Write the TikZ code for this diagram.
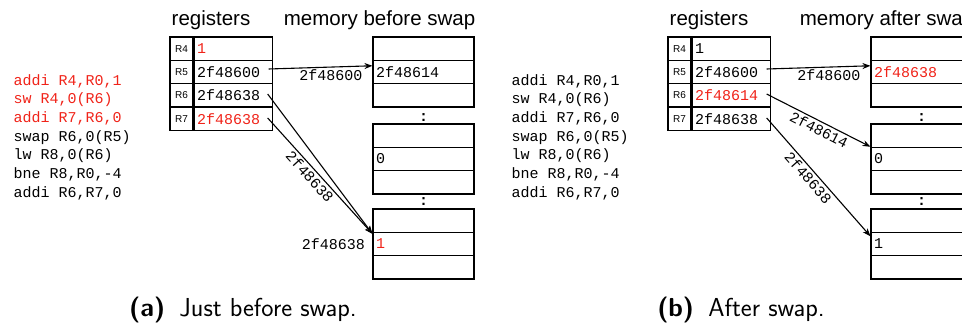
\documentclass[tikz,border=0pt]{standalone}
\usepackage{fontspec}
\newfontfamily\codefont{Liberation Mono}
\newfontfamily\headfont{Liberation Sans}
\usetikzlibrary{positioning,calc,arrows.meta}
\definecolor{chg}{RGB}{240,35,25}

\begin{document}
\begin{tikzpicture}
  [x=1pt,y=1pt,line width=1.1pt,
   regN/.style={draw,minimum width=23pt,minimum height=23.33pt,inner sep=0pt,
     font=\headfont\fontsize{10}{12}\selectfont},
   valN/.style={draw,minimum height=23.33pt,text width=72pt,inner xsep=3pt,inner ysep=0pt,
     align=left,font=\codefont\fontsize{15}{18}\selectfont},
   memN/.style={draw,minimum width=101pt,minimum height=23.33pt,inner sep=0pt},
   cellT/.style={anchor=west,inner sep=3pt,font=\codefont\fontsize{15}{18}\selectfont},
   codeL/.style={anchor=west,inner sep=0pt,align=left,
     font=\codefont\fontsize{15}{18.67}\selectfont},
   addrL/.style={inner sep=2pt,font=\codefont\fontsize{15}{18}\selectfont},
   headL/.style={font=\headfont\fontsize{20.5}{24}\selectfont},
   capL/.style={anchor=base,font=\sffamily\fontsize{26}{30}\selectfont},
   dotsL/.style={inner sep=0pt,font=\codefont\bfseries\fontsize{15}{18}\selectfont},
   ptr/.style={-{Stealth[length=8pt,width=6pt]}},
  ]
 \clip (0,0) rectangle (962,324);

 % (a) just before swap
 \node[codeL] (codeA) at (13,187)
   {\textcolor{chg}{addi R4,R0,1}\\ \textcolor{chg}{sw R4,0(R6)}\\ \textcolor{chg}{addi R7,R6,0}\\
    swap R6,0(R5)\\ lw R8,0(R6)\\ bne R8,R0,-4\\ addi R6,R7,0};

 \node[headL,anchor=base] (regHA) at (211,298) {registers};
 \node[headL,anchor=base west] (memHA) at (280,298) {memory before swap};

 \foreach \r/\y in {4/275.33,5/252,6/228.67,7/205.33}
   \node[regN] (aR\r) at (181.5,\y) {R\r};
 \node[valN,right=0pt of aR4] (aV4) {\textcolor{chg}{1}};
 \node[valN,right=0pt of aR5] (aV5) {2f48600};
 \node[valN,right=0pt of aR6] (aV6) {2f48638};
 \node[valN,right=0pt of aR7] (aV7) {\textcolor{chg}{2f48638}};

 \foreach \g/\top in {1/287,2/200,3/115}
   \foreach \r in {1,2,3}
     \node[memN] (aM\g\r) at (423.5,{\top-11.67-23.33*(\r-1)}) {};
 \node[dotsL] (aD1) at (423.5,206) {:};
 \node[dotsL] (aD2) at (423.5,122) {:};

 \node[cellT] (aT1) at (aM12.west) {2f48614};
 \node[cellT] (aT2) at (aM22.west) {0};
 \node[cellT,text=chg] (aT3) at (aM32.west) {1};
 \node[addrL,left=5pt of aM32.west] (aAd) {2f48638};

 \draw[ptr] ($(aV5.east)+(-4,3)$) -- ($(aM12.north west)+(0,-6)$)
   node[addrL,below,pos=0.6] (aL5) {2f48600};
 \draw[ptr] ($(aV6.east)+(-5,1.3)$) -- ($(aM32.north west)+(0,-2)$);
 \draw[ptr] ($(aV7.east)+(-5,0.7)$) -- ($(aM32.north west)+(0,-2)$)
   node[addrL,sloped,below,pos=0.46] (aL7) {2f48638};

 \node[capL] (capA) at (243,7.3) {\textbf{(a)}\hspace{0.55em}Just before swap.};

 % (b) after swap
 \node[codeL] (codeB) at (511,187)
   {addi R4,R0,1\\ sw R4,0(R6)\\ addi R7,R6,0\\
    swap R6,0(R5)\\ lw R8,0(R6)\\ bne R8,R0,-4\\ addi R6,R7,0};

 \node[headL,anchor=base] (regHB) at (709,298) {registers};
 \node[headL,anchor=base west] (memHB) at (796,298) {memory after swap};

 \foreach \r/\y in {4/275.33,5/252,6/228.67,7/205.33}
   \node[regN] (bR\r) at (679.5,\y) {R\r};
 \node[valN,right=0pt of bR4] (bV4) {1};
 \node[valN,right=0pt of bR5] (bV5) {2f48600};
 \node[valN,right=0pt of bR6] (bV6) {\textcolor{chg}{2f48614}};
 \node[valN,right=0pt of bR7] (bV7) {2f48638};

 \foreach \g/\top in {1/287,2/200,3/115}
   \foreach \r in {1,2,3}
     \node[memN] (bM\g\r) at (921.5,{\top-11.67-23.33*(\r-1)}) {};
 \node[dotsL] (bD1) at (921.5,206) {:};
 \node[dotsL] (bD2) at (921.5,122) {:};

 \node[cellT,text=chg] (bT1) at (bM12.west) {2f48638};
 \node[cellT] (bT2) at (bM22.west) {0};
 \node[cellT] (bT3) at (bM32.west) {1};

 \draw[ptr] ($(bV5.east)+(-4,3)$) -- ($(bM12.north west)+(0,-6)$)
   node[addrL,below,pos=0.6] (bL5) {2f48600};
 \draw[ptr] ($(bV6.east)+(-4,1.3)$) -- (bM22.north west)
   node[addrL,sloped,below,pos=0.54] (bL6) {2f48614};
 \draw[ptr] ($(bV7.east)+(-4,0.7)$) -- ($(bM32.north west)+(0,-4.5)$)
   node[addrL,sloped,below,pos=0.46] (bL7) {2f48638};

 \node[capL] (capB) at (741,7.3) {\textbf{(b)}\hspace{0.55em}After swap.};
\end{tikzpicture}
\end{document}
